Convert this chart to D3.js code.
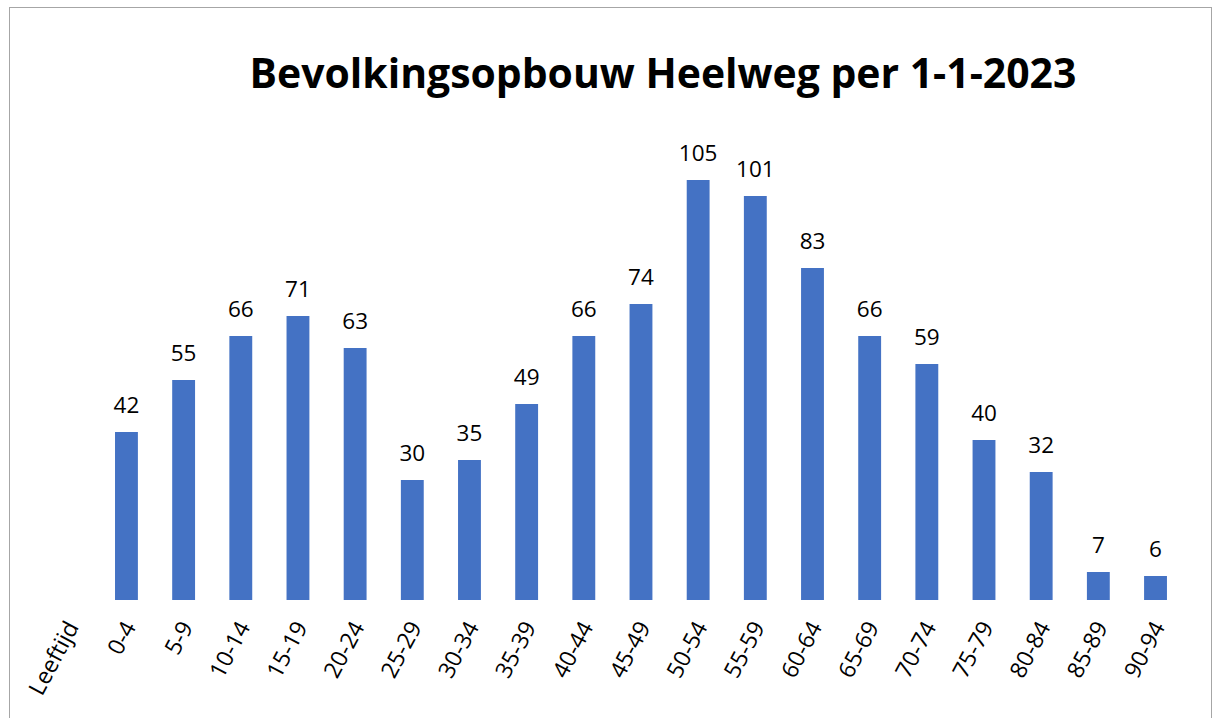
<!doctype html>
<html lang="nl">
  <head>
    <meta charset="UTF-8" />
    <title>Bevolkingsopbouw Heelweg per 1-1-2023</title>
    <script src="https://d3js.org/d3.v7.min.js"></script>
    <style>
      body {
        margin: 0;
        background: #fff;
      }
      svg {
        display: block;
        font-family: 'Open Sans', 'Noto Sans', sans-serif;
      }
    </style>
  </head>
  <body>
    <svg width="1214" height="718"></svg>
    <script>
      // Data
      const categories = [
        'Leeftijd', '0-4', '5-9', '10-14', '15-19', '20-24', '25-29',
        '30-34', '35-39', '40-44', '45-49', '50-54', '55-59', '60-64',
        '65-69', '70-74', '75-79', '80-84', '85-89', '90-94',
      ];
      const counts = [
        null, 42, 55, 66, 71, 63, 30, 35, 49, 66, 74, 105, 101, 83,
        66, 59, 40, 32, 7, 6,
      ];
      const title = 'Bevolkingsopbouw Heelweg per 1-1-2023';

      const data = categories.map((c, i) => ({ cat: c, value: counts[i] }));

      const svg = d3.select('svg');

      // Chart border
      svg
        .append('rect')
        .attr('x', 9.5)
        .attr('y', 7.5)
        .attr('width', 1202)
        .attr('height', 720)
        .attr('fill', '#fff')
        .attr('stroke', '#a6a6a6')
        .attr('stroke-width', 1);

      const x = d3
        .scaleBand()
        .domain(categories)
        .range([40.7, 40.7 + 57.17 * categories.length])
        .paddingInner(0.6)
        .paddingOuter(0.3);

      const y = d3.scaleLinear().domain([0, 120]).range([600, 120]);

      // Bars
      svg
        .selectAll('.bar')
        .data(data.filter((d) => d.value != null))
        .enter()
        .append('rect')
        .attr('class', 'bar')
        .attr('x', (d) => x(d.cat))
        .attr('y', (d) => y(d.value))
        .attr('width', x.bandwidth())
        .attr('height', (d) => y(0) - y(d.value))
        .attr('fill', '#4472c4');

      // Value labels
      svg
        .selectAll('.val')
        .data(data.filter((d) => d.value != null))
        .enter()
        .append('text')
        .attr('class', 'val')
        .attr('x', (d) => x(d.cat) + x.bandwidth() / 2)
        .attr('y', (d) => y(d.value) - 19)
        .attr('text-anchor', 'middle')
        .attr('font-size', 22.5)
        .attr('fill', '#000')
        .text((d) => d.value);

      // Category axis labels, rotated
      svg
        .selectAll('.cat')
        .data(categories)
        .enter()
        .append('text')
        .attr('class', 'cat')
        .attr('transform', (d) => {
          const cx = x(d) + x.bandwidth() / 2 + 3;
          return `translate(${cx},623) rotate(-62)`;
        })
        .attr('text-anchor', 'end')
        .attr('dy', '0.35em')
        .attr('font-size', 23)
        .attr('fill', '#000')
        .text((d) => d);

      // Title
      const t = svg
        .append('text')
        .attr('x', 663)
        .attr('y', 88)
        .attr('text-anchor', 'middle')
        .attr('font-weight', 'bold')
        .attr('font-size', 40)
        .attr('fill', '#000')
        .text(title);
      const len = t.node().getComputedTextLength();
      t.attr('font-size', (40 * 827) / len);
    </script>
  </body>
</html>
